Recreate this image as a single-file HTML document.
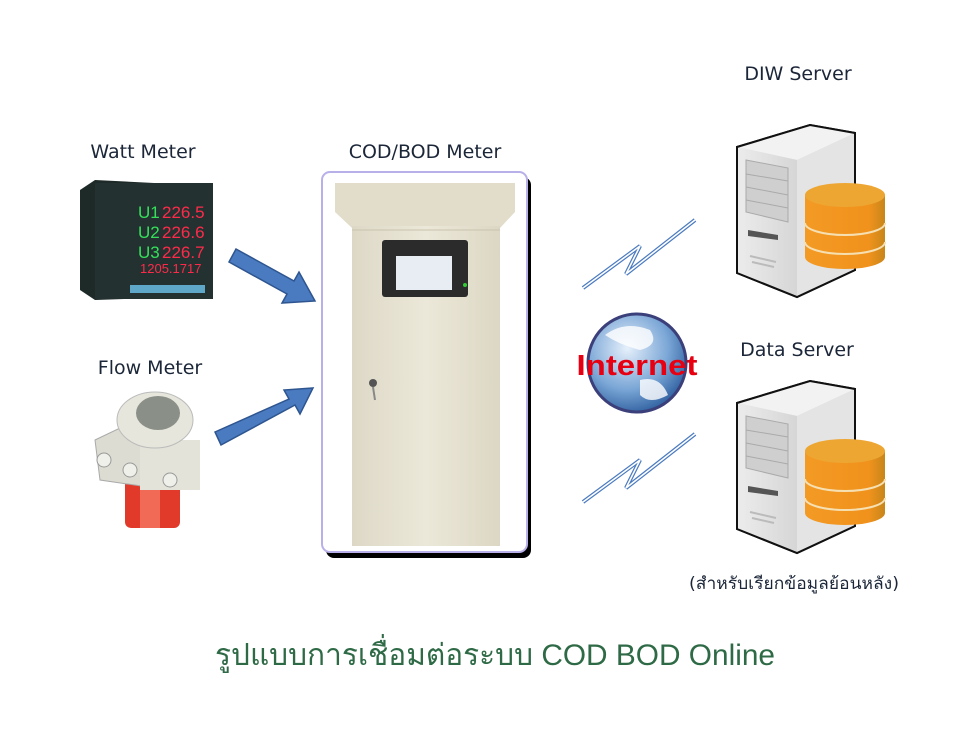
<!DOCTYPE html>
<html><head><meta charset="utf-8"><style>
html,body{margin:0;padding:0;background:#fff;}
svg{display:block;}
text{font-family:"Liberation Sans","DejaVu Sans",sans-serif;}
</style></head><body>
<svg width="957" height="732" viewBox="0 0 957 732" xmlns="http://www.w3.org/2000/svg">
<defs>
<linearGradient id="cab" x1="0" x2="1"><stop offset="0" stop-color="#ddd8c6"/><stop offset="0.5" stop-color="#ece8d9"/><stop offset="1" stop-color="#dcd7c4"/></linearGradient>
<radialGradient id="globe" cx="0.4" cy="0.35" r="0.7"><stop offset="0" stop-color="#e6f0fb"/><stop offset="0.6" stop-color="#7aa6d6"/><stop offset="1" stop-color="#2b5c9c"/></radialGradient>
<linearGradient id="db" x1="0" x2="1"><stop offset="0" stop-color="#f39a25"/><stop offset="0.8" stop-color="#f0921c"/><stop offset="1" stop-color="#c8861a"/></linearGradient>
<linearGradient id="srvf" x1="0" x2="1"><stop offset="0" stop-color="#ececec"/><stop offset="1" stop-color="#d6d6d6"/></linearGradient>
<g id="server">
 <path d="M737,147 L810,125 L855,133 L855,270 L797,297 L737,273 Z" fill="#d9d9d9" stroke="#111" stroke-width="2"/>
 <path d="M737,147 L810,125 L855,133 L797,160 Z" fill="#f2f2f2"/>
 <path d="M797,160 L855,133 L855,270 L797,297 Z" fill="#e4e4e4"/>
 <path d="M737,147 L797,160 L797,297 L737,273 Z" fill="url(#srvf)"/>
 <path d="M737,147 L810,125 L855,133 L855,270 L797,297 L737,273 Z" fill="none" stroke="#111" stroke-width="2"/>
 <path d="M746,160 L788,168 L788,222 L746,212 Z" fill="#cfcfcf" stroke="#aaa"/>
 <path d="M746,174 L788,181 M746,187 L788,195 M746,200 L788,208" stroke="#aaa"/>
 <path d="M748,230 L778,235 L778,240 L748,236 Z" fill="#555"/>
 <path d="M750,256 L776,262 M752,262 L774,267" stroke="#bbb" stroke-width="2"/>
 <path d="M805,195 L805,257 A40,12 0 0 0 885,257 L885,195 Z" fill="url(#db)"/>
 <ellipse cx="845" cy="195" rx="40" ry="12" fill="#eea633"/>
 <path d="M805,223 A40,12 0 0 0 885,223 M805,242 A40,12 0 0 0 885,242" fill="none" stroke="#f6dfb0" stroke-width="2"/>
</g>
<g id="bolt"><path d="M583,288 L640,246 L626,274 L695,220" fill="none" stroke="#4a7ac0" stroke-width="4"/><path d="M583,288 L640,246 L626,274 L695,220" fill="none" stroke="#fff" stroke-width="1.6"/></g>
</defs>

<text x="798" y="80" font-size="19" text-anchor="middle" fill="#1b2638" style="font-family:'DejaVu Sans',sans-serif">DIW Server</text>
<text x="143" y="158" font-size="19" text-anchor="middle" fill="#1b2638" style="font-family:'DejaVu Sans',sans-serif">Watt Meter</text>
<text x="425" y="158" font-size="19" text-anchor="middle" fill="#1b2638" style="font-family:'DejaVu Sans',sans-serif">COD/BOD Meter</text>
<text x="150" y="374" font-size="19" text-anchor="middle" fill="#1b2638" style="font-family:'DejaVu Sans',sans-serif">Flow Meter</text>
<text x="797" y="356" font-size="19" text-anchor="middle" fill="#1b2638" style="font-family:'DejaVu Sans',sans-serif">Data Server</text>

<!-- watt meter -->
<path d="M80,190 L95,180 L213,186 L213,296 L95,300 L80,290 Z" fill="#1d2a28"/>
<rect x="95" y="183" width="118" height="116" fill="#233230"/>
<text x="138" y="218" font-size="17" fill="#34e05a" font-family="Liberation Mono">U1</text>
<text x="162" y="218" font-size="17" fill="#ff2a4a" font-family="Liberation Mono">226.5</text>
<text x="138" y="238" font-size="17" fill="#34e05a" font-family="Liberation Mono">U2</text>
<text x="162" y="238" font-size="17" fill="#ff2a4a" font-family="Liberation Mono">226.6</text>
<text x="138" y="258" font-size="17" fill="#34e05a" font-family="Liberation Mono">U3</text>
<text x="162" y="258" font-size="17" fill="#ff2a4a" font-family="Liberation Mono">226.7</text>
<text x="140" y="273" font-size="13" fill="#ff2a4a" font-family="Liberation Mono">1205.1717</text>
<rect x="130" y="285" width="75" height="8" fill="#5fa7c9"/>

<!-- flow meter -->
<rect x="125" y="478" width="55" height="50" rx="6" fill="#e23a2a"/>
<rect x="140" y="478" width="20" height="50" fill="#f06a55"/>
<path d="M95,440 L120,428 L155,432 L155,488 L100,480 Z" fill="#dcdcd2" stroke="#aaa"/>
<rect x="140" y="440" width="60" height="50" fill="#e3e3da"/>
<ellipse cx="155" cy="420" rx="38" ry="28" fill="#e6e6dc" stroke="#bbb"/>
<ellipse cx="158" cy="413" rx="22" ry="17" fill="#8a8f88"/>
<circle cx="104" cy="460" r="7" fill="#f0f0ea" stroke="#999"/>
<circle cx="130" cy="470" r="7" fill="#f0f0ea" stroke="#999"/>
<circle cx="170" cy="480" r="7" fill="#f0f0ea" stroke="#999"/>

<!-- arrows -->
<path d="M236,249 L294,281 L299,272 L315,301 L282,303 L287,294 L229,262 Z" fill="#4a7ac0" stroke="#2e558f" stroke-width="1.5"/>
<path d="M215,432 L289,399 L284,390 L313,388 L300,414 L295,405 L221,445 Z" fill="#4a7ac0" stroke="#2e558f" stroke-width="1.5"/>

<!-- cabinet frame -->
<rect x="326" y="177" width="205" height="381" rx="8" fill="#000"/>
<rect x="322" y="172" width="205" height="380" rx="8" fill="#fff" stroke="#b8b0e8" stroke-width="2"/>
<path d="M335,183 L515,183 L515,212 L500,228 L352,228 L335,212 Z" fill="#e2ddcb"/>
<rect x="352" y="226" width="148" height="320" fill="url(#cab)"/>
<line x1="352" y1="230" x2="500" y2="230" stroke="#c9c3ae"/>
<rect x="382" y="240" width="86" height="57" rx="3" fill="#2b2b2b"/>
<rect x="396" y="256" width="56" height="34" fill="#e8edf3"/>
<circle cx="465" cy="285" r="2" fill="#3c3"/>
<circle cx="373" cy="383" r="4" fill="#555"/>
<line x1="373" y1="387" x2="375" y2="400" stroke="#888" stroke-width="2"/>

<!-- bolts -->
<use href="#bolt"/>
<use href="#bolt" transform="translate(0,214)"/>

<!-- globe -->
<circle cx="637" cy="363" r="49" fill="url(#globe)" stroke="#3b3f7a" stroke-width="3"/>
<path d="M605,335 Q625,320 650,330 Q660,345 640,350 Q620,345 605,335 Z M640,380 Q660,375 668,395 Q650,405 640,395 Z" fill="#fff" opacity="0.8"/>
<text x="637" y="375" font-size="29" font-weight="bold" text-anchor="middle" fill="#e60012" textLength="121" lengthAdjust="spacingAndGlyphs" style="font-family:'Liberation Sans',sans-serif">Internet</text>

<!-- servers -->
<use href="#server"/>
<use href="#server" transform="translate(0,256)"/>

<text x="794" y="589" font-size="17" text-anchor="middle" fill="#1b2638" textLength="210" lengthAdjust="spacingAndGlyphs" style="font-family:'DejaVu Sans',sans-serif">(สำหรับเรียกข้อมูลย้อนหลัง)</text>
<text x="495" y="665" font-size="30" text-anchor="middle" fill="#2f6a46" textLength="560" lengthAdjust="spacingAndGlyphs" style="font-family:'Liberation Sans','DejaVu Sans',sans-serif">รูปแบบการเชื่อมต่อระบบ COD BOD Online</text>
</svg>
</body></html>
